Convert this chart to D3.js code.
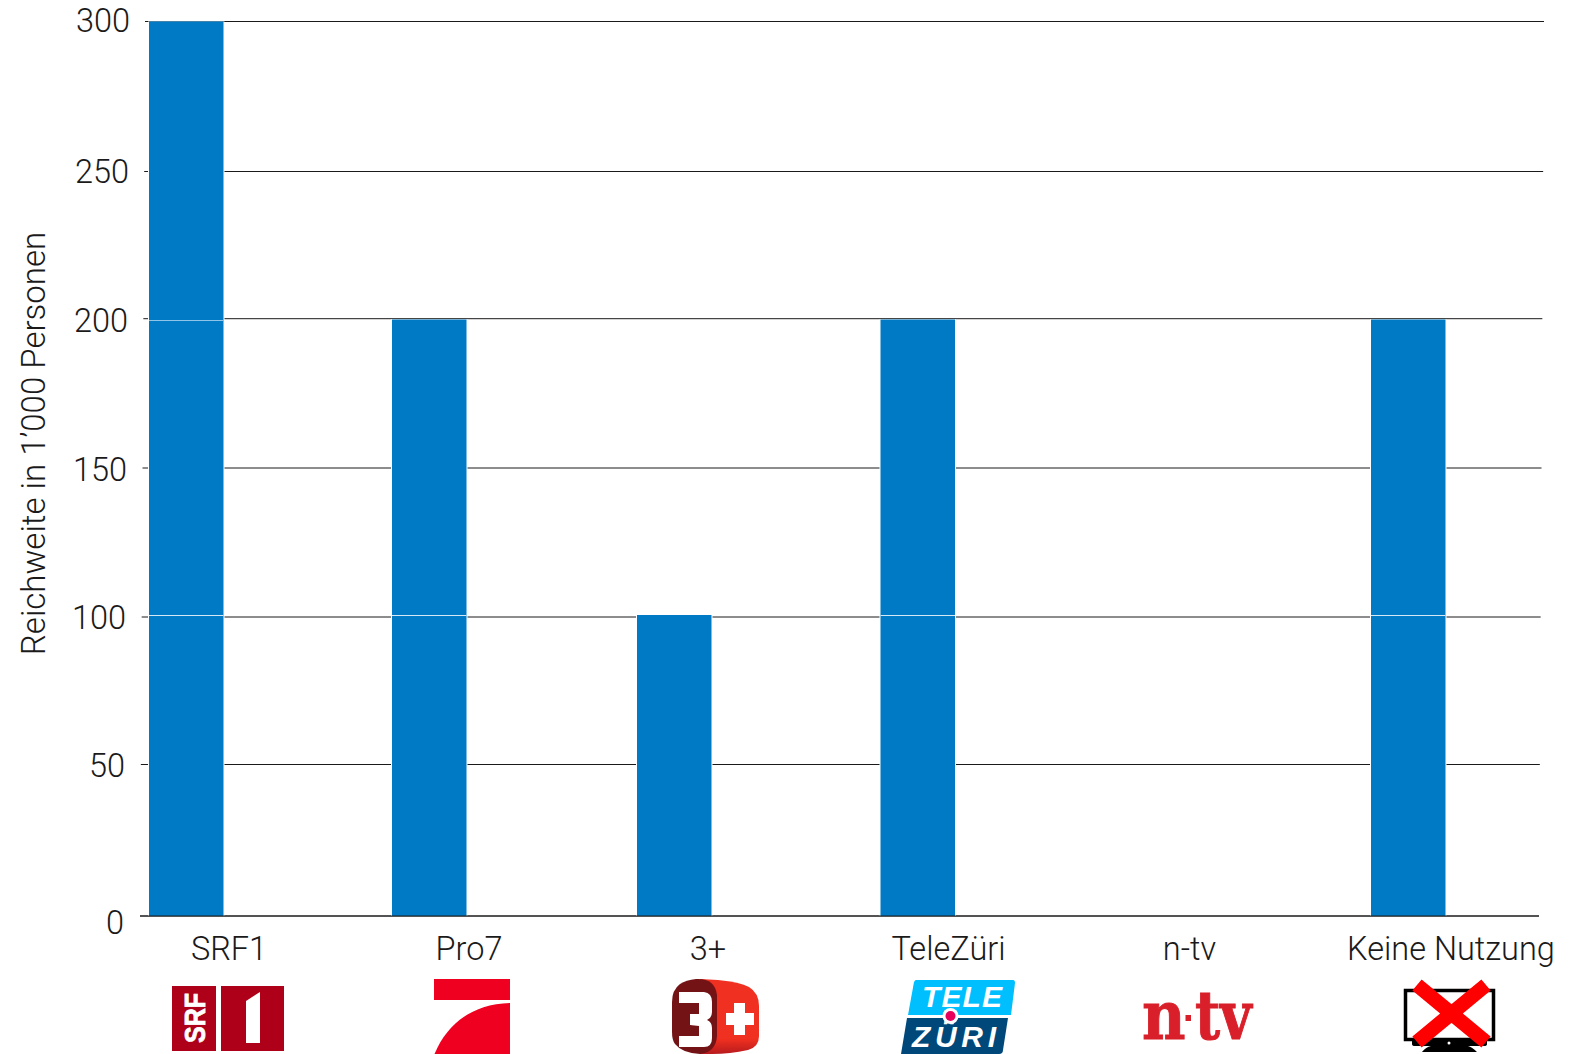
<!DOCTYPE html>
<html>
<head>
<meta charset="utf-8">
<script src="https://cdn.jsdelivr.net/npm/d3@7"></script>
<style>
  html, body { margin: 0; background: #fff; }
  svg { display: block; }
  text.lbl { font-family: "Roboto", sans-serif; font-weight: 300; fill: #1a1a1a; font-size: 32.5px; }
</style>
</head>
<body>
<div id="grafico"></div>
<script>
const sender = ["SRF1", "Pro7", "3+", "TeleZüri", "n-tv", "Keine Nutzung"];
const reichweite = [300, 200, 100, 200, 0, 200];
const yTicks = [0, 50, 100, 150, 200, 250, 300];
const seams = [100, 200];
const yLabel = "Reichweite in 1’000 Personen";

const width = 1570;
const height = 1054;

const svg = d3.select("#grafico")
              .append("svg")
              .attr("width", width)
              .attr("height", height);

// the gridlines, bars and labels in the original are not quite evenly spaced
const yScale = d3.scaleLinear()
                 .domain(yTicks)
                 .range([916, 764.5, 617, 468, 318.7, 171.5, 21.5]);

const barY = d3.scaleLinear()
               .domain([0, 100, 200, 300])
               .range([916, 615, 319.5, 21.5]);

const seamY = d3.scaleOrdinal()
                .domain(seams)
                .range([615.5, 320.5]);

const seamColor = d3.scaleOrdinal()
                    .domain(seams)
                    .range(["#d5e8f5", "#8fc6e8"]);

const labelY = d3.scaleLinear()
                 .domain(yTicks)
                 .range([922, 765, 617, 469, 320, 171, 20]);

const labelEnd = d3.scaleLinear()
                   .domain([0, 300])
                   .range([124, 130]);

// gridlines drift to the right going up
const gridStart = d3.scaleLinear().domain([0, 300]).range([140, 145]);
const gridEnd = d3.scaleLinear().domain([0, 300]).range([1539, 1544]);

const barX = d3.scaleOrdinal()
               .domain(sender)
               .range([149, 392, 637, 880.5, 1125, 1371]);
const barWidth = 74.5;

const catX = d3.scaleOrdinal()
               .domain(sender)
               .range([229, 469, 708, 948.5, 1189.5, 1451]);

svg.append("g")
   .attr("stroke", "#1a1a1a")
   .attr("stroke-width", 1)
   .selectAll("line")
   .data(yTicks)
   .join("line")
   .attr("x1", d => gridStart(d))
   .attr("x2", d => gridEnd(d))
   .attr("y1", d => yScale(d))
   .attr("y2", d => yScale(d));

const barData = sender.map((name, i) => ({ name: name, value: reichweite[i] }))
                      .filter(d => d.value > 0);

const bars = svg.append("g")
                .selectAll("g")
                .data(barData)
                .join("g");

// white halo around each bar, it cuts the gridlines
bars.append("rect")
    .attr("x", d => barX(d.name) - 1)
    .attr("y", d => barY(d.value))
    .attr("width", barWidth + 2)
    .attr("height", d => barY(0) - barY(d.value))
    .attr("fill", "#fff");

bars.append("rect")
    .attr("x", d => barX(d.name))
    .attr("y", d => barY(d.value))
    .attr("width", barWidth)
    .attr("height", d => barY(0) - barY(d.value))
    .attr("fill", "#007ac5");

bars.selectAll("line")
    .data(d => seams.filter(s => s < d.value).map(s => ({ s: s, name: d.name })))
    .join("line")
    .attr("x1", d => barX(d.name))
    .attr("x2", d => barX(d.name) + barWidth)
    .attr("y1", d => seamY(d.s))
    .attr("y2", d => seamY(d.s))
    .attr("stroke", d => seamColor(d.s))
    .attr("stroke-width", 1);

// baseline stays visible on top of the bars
svg.append("line")
   .attr("x1", gridStart(0))
   .attr("x2", gridEnd(0))
   .attr("y1", yScale(0))
   .attr("y2", yScale(0))
   .attr("stroke", "#1a1a1a");

svg.append("g")
   .selectAll("text")
   .data(yTicks)
   .join("text")
   .attr("class", "lbl")
   .attr("x", d => labelEnd(d))
   .attr("y", d => labelY(d))
   .attr("dy", "0.36em")
   .attr("text-anchor", "end")
   .text(d => d);

svg.append("text")
   .attr("class", "lbl")
   .attr("transform", "translate(44.5, 443.5) rotate(-90)")
   .attr("text-anchor", "middle")
   .style("font-size", "33px")
   .text(yLabel);

svg.append("g")
   .selectAll("text")
   .data(sender)
   .join("text")
   .attr("class", "lbl")
   .attr("x", d => catX(d))
   .attr("y", 960)
   .attr("text-anchor", "middle")
   .text(d => d);

// logos under the categories
const logos = svg.append("g");

// SRF1
logos.append("rect").attr("x", 172).attr("y", 986).attr("width", 44).attr("height", 65).attr("fill", "#ae0019");
logos.append("rect").attr("x", 221).attr("y", 986).attr("width", 63).attr("height", 65).attr("fill", "#ae0019");
logos.append("polygon").attr("points", "246,1001 260,992 260,1043 246,1043").attr("fill", "#fff");
logos.append("text")
     .attr("transform", "translate(204.5, 1043) rotate(-90)")
     .attr("font-family", "Liberation Sans")
     .attr("font-weight", "bold")
     .attr("font-size", 30)
     .attr("textLength", 50)
     .attr("lengthAdjust", "spacingAndGlyphs")
     .attr("fill", "#fff")
     .attr("stroke", "#fff")
     .attr("stroke-width", 0.8)
     .text("SRF");

// Pro7
logos.append("rect").attr("x", 434).attr("y", 979).attr("width", 76).attr("height", 21).attr("fill", "#ef0020");
logos.append("path").attr("d", "M510,1003 C472,1004 447,1024 434.5,1054 L510,1054 Z").attr("fill", "#ef0020");

// 3+
const redGrad = svg.append("defs").append("linearGradient")
                   .attr("id", "rot3").attr("x1", 0).attr("x2", 0).attr("y1", 0).attr("y2", 1);
redGrad.append("stop").attr("offset", "0.8").attr("stop-color", "#f03020");
redGrad.append("stop").attr("offset", "1").attr("stop-color", "#b81a1e");
logos.append("path")
     .attr("d", "M700,979 L718,980 Q740,982 749,987 Q759,993 759,1006 L759,1036 Q759,1047 748,1050 Q730,1054 712,1054 L700,1054 Z")
     .attr("fill", "url(#rot3)");
logos.append("path")
     .attr("d", "M696,979 Q715,978 717,995 L717,1036 Q716,1052 700,1054 Q682,1053 675,1044 Q672,1040 672,1032 L672,1002 Q672,990 680,984 Q686,980 696,979 Z")
     .attr("fill", "#731316");
logos.append("path")
     .attr("d", "M679,992 L704,992 Q712,993 712,1002 L712,1012 Q712,1018 707,1020 Q712,1022 712,1028 L712,1038 Q712,1047 704,1047 L679,1047 L679,1036 L699,1036 L699,1026 L690,1025 L690,1014 L699,1014 L699,1003 L679,1003 Z")
     .attr("fill", "#fff");
logos.append("path")
     .attr("d", "M734,1003 H745 V1013 H754 V1025 H745 V1035 H734 V1025 H726 V1013 H734 Z")
     .attr("fill", "#fff");

// TeleZüri
logos.append("path").attr("d", "M916,980 L1013,980 Q1015,980 1015,983 L1011,1015 L908,1015 L914,982 Q915,980 916,980 Z").attr("fill", "#00bfff");
logos.append("path").attr("d", "M907,1018 L1008,1018 L1003,1050 Q1003,1054 999,1054 L901,1054 Z").attr("fill", "#00487a");
logos.append("circle").attr("cx", 950.5).attr("cy", 1016).attr("r", 8).attr("fill", "#fff");
logos.append("circle").attr("cx", 950.5).attr("cy", 1016).attr("r", 5).attr("fill", "#e6005c");
logos.append("text")
     .attr("x", 922).attr("y", 1007)
     .attr("font-family", "Liberation Sans").attr("font-weight", "bold").attr("font-style", "italic")
     .attr("font-size", 30).attr("textLength", 80).attr("fill", "#fff")
     .text("TELE");
logos.append("text")
     .attr("x", 912).attr("y", 1047)
     .attr("font-family", "Liberation Sans").attr("font-weight", "bold").attr("font-style", "italic")
     .attr("font-size", 30).attr("textLength", 84).attr("fill", "#fff")
     .text("ZÜRI");

// n-tv
logos.append("text")
     .attr("transform", "translate(1142, 1039) scale(0.88, 1)")
     .attr("font-family", "DejaVu Serif").attr("font-weight", "bold")
     .attr("font-size", 68)
     .attr("fill", "#d9202a").attr("stroke", "#d9202a").attr("stroke-width", 1)
     .text("n");
logos.append("rect").attr("x", 1185.5).attr("y", 1015).attr("width", 5.5).attr("height", 6).attr("fill", "#d9202a");
logos.append("text")
     .attr("transform", "translate(1195, 1039) scale(0.8, 1)")
     .attr("font-family", "DejaVu Serif").attr("font-weight", "bold")
     .attr("font-size", 68)
     .attr("fill", "#d9202a").attr("stroke", "#d9202a").attr("stroke-width", 1)
     .text("tv");

// Keine Nutzung: crossed out TV
logos.append("rect").attr("x", 1405.5).attr("y", 990.5).attr("width", 88).attr("height", 49)
     .attr("fill", "#fff").attr("stroke", "#000").attr("stroke-width", 3.5);
logos.append("path").attr("d", "M1412,1041 H1487 V1044 Q1487,1046 1484,1046 H1468 Q1472,1047 1477,1052 H1422 Q1426,1047 1431,1046 H1415 Q1412,1046 1412,1044 Z").attr("fill", "#000");
logos.append("circle").attr("cx", 1449).attr("cy", 1043).attr("r", 1.5).attr("fill", "#fff");
logos.append("path").attr("d", "M1417,985 L1486,1042 M1486,985 L1417,1042")
     .attr("stroke", "#f00").attr("stroke-width", 14.5).attr("fill", "none");
</script>
</body>
</html>
